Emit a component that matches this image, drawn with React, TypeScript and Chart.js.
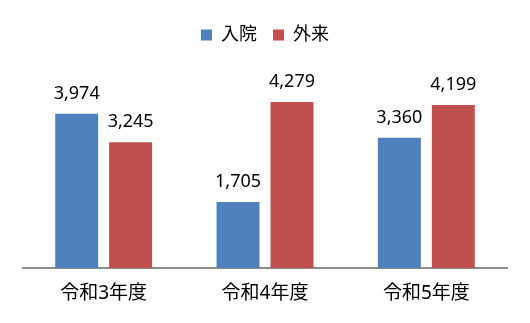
import React, { useEffect, useRef } from "react";
import { Chart, registerables } from "chart.js";

Chart.register(...registerables);

const categories = ["令和3年度", "令和4年度", "令和5年度"];
const inpatient = [3974, 1705, 3360];
const outpatient = [3245, 4279, 4199];
const seriesNames = ["入院", "外来"];

const FONT = "'Noto Sans', 'Noto Sans CJK JP', sans-serif";

const dataLabels = {
  id: "dataLabels",
  afterDatasetsDraw(chart: any) {
    const ctx = chart.ctx;
    ctx.save();
    ctx.font = `18px ${FONT}`;
    ctx.fillStyle = "#000";
    ctx.textAlign = "center";
    ctx.textBaseline = "alphabetic";
    chart.data.datasets.forEach((ds: any, i: number) => {
      const meta = chart.getDatasetMeta(i);
      meta.data.forEach((bar: any, j: number) => {
        const v = ds.data[j];
        ctx.fillText(v.toLocaleString("en-US"), bar.x, bar.y - 15);
      });
    });
    ctx.restore();
  },
};

const legendMargin = {
  id: "legendMargin",
  beforeInit(chart: any) {
    const orig = chart.legend.fit;
    chart.legend.fit = function () {
      orig.call(this);
      this.height += 20;
    };
  },
};

export default function App() {
  const ref = useRef<HTMLCanvasElement>(null);
  useEffect(() => {
    const chart = new Chart(ref.current!, {
      type: "bar",
      data: {
        labels: categories,
        datasets: [
          {
            label: seriesNames[0],
            data: inpatient,
            backgroundColor: "#4F81BD",
            categoryPercentage: 0.669,
            barPercentage: 0.796,
          },
          {
            label: seriesNames[1],
            data: outpatient,
            backgroundColor: "#C0504D",
            categoryPercentage: 0.669,
            barPercentage: 0.796,
          },
        ],
      },
      options: {
        animation: false,
        responsive: false,
        maintainAspectRatio: false,
        layout: { padding: { left: 23, right: 23, top: 10, bottom: 4 } },
        plugins: {
          legend: {
            position: "top",
            labels: {
              boxWidth: 11,
              boxHeight: 11,
              padding: 16,
              color: "#000",
              font: { size: 18, family: FONT },
            },
          },
          tooltip: { enabled: false },
        },
        scales: {
          x: {
            grid: { display: false, drawTicks: false },
            border: { display: true, color: "#8c8c8c", width: 2 },
            ticks: {
              padding: 14,
              color: "#000",
              font: { size: 19, family: FONT },
            },
          },
          y: {
            display: false,
            min: 0,
            max: 5000,
          },
        },
      },
      plugins: [dataLabels, legendMargin],
    });
    return () => chart.destroy();
  }, []);
  return (
    <div style={{ position: "absolute", left: 0, top: 0, width: 530, height: 323, background: "#fff" }}>
      <canvas ref={ref} width={530} height={323} />
    </div>
  );
}
